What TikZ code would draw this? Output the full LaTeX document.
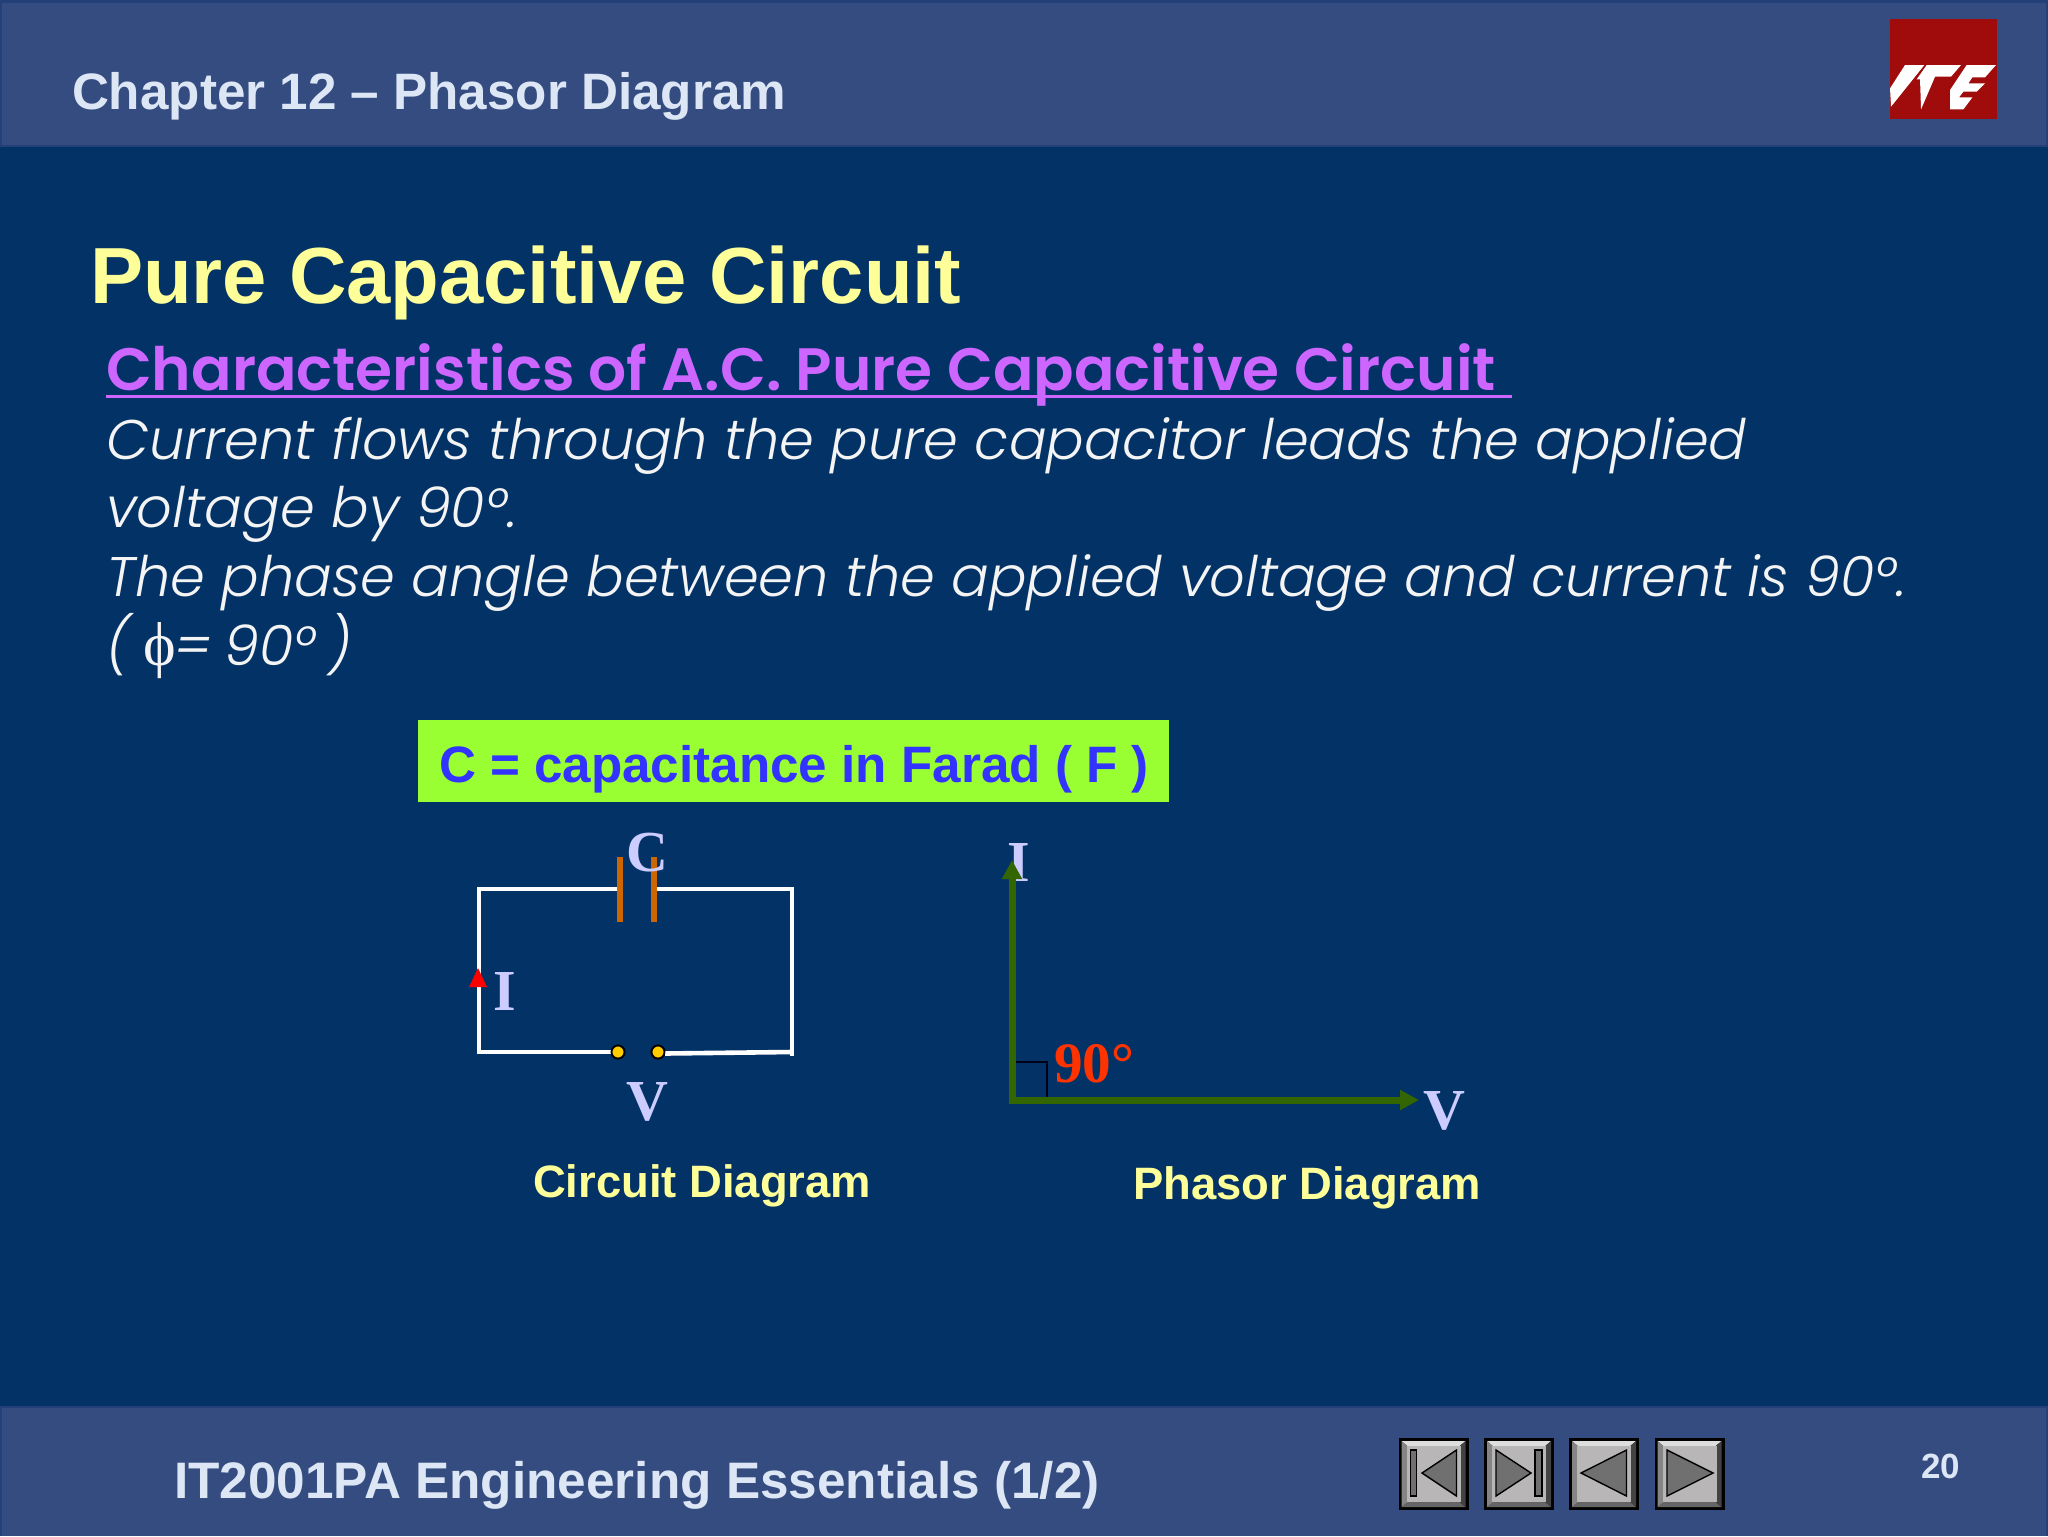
\documentclass[tikz,border=0pt]{standalone}
\usepackage{fontspec}
\setmainfont{Liberation Sans}
\newfontfamily\gothic[ItalicFont={Poppins Light Italic},BoldFont={Poppins SemiBold}]{Poppins}
\newfontfamily\serifb{Liberation Serif}
\usetikzlibrary{arrows.meta}
\definecolor{bgblue}{HTML}{033366}
\definecolor{bandblue}{HTML}{354C81}
\definecolor{banddark}{HTML}{234078}
\definecolor{headtxt}{HTML}{DCE6F4}
\definecolor{titley}{HTML}{FFFF99}
\definecolor{purp}{HTML}{CC66FF}
\definecolor{bodyw}{HTML}{F4F4F4}
\definecolor{limeg}{HTML}{99FF33}
\definecolor{boxblue}{HTML}{3333FF}
\definecolor{capor}{HTML}{CC6600}
\definecolor{lilac}{HTML}{CCCCFF}
\definecolor{phgreen}{HTML}{336600}
\definecolor{oranger}{HTML}{FF3300}
\definecolor{dotyel}{HTML}{FFCC00}
\definecolor{logored}{HTML}{A00C0C}
\definecolor{btnface}{HTML}{B8B6B6}
\definecolor{btnicon}{HTML}{707070}
\tikzset{
  x=0.5pt,y=-0.5pt,
  lbl/.style={anchor=base west,inner sep=0pt,outer sep=0pt},
  headfont/.style={lbl,text=headtxt,font=\bfseries\fontsize{25.6}{30}\selectfont},
  bodyline/.style={lbl,text=bodyw,font=\gothic\itshape\fontsize{27.9}{32}\selectfont},
  caption/.style={lbl,text=titley,font=\bfseries\fontsize{22.7}{26}\selectfont},
  sym/.style={lbl,text=lilac,font=\serifb\bfseries\fontsize{29}{32}\selectfont},
  wire/.style={draw=white,line width=2.3pt},
  plate/.style={draw=capor,line width=3.3pt},
  terminal/.style={circle,draw=black,fill=dotyel,line width=0.9pt,minimum size=6.5pt,inner sep=0pt},
  phasor/.style={draw=phgreen,line width=3.5pt,-{Triangle[length=9.5pt,width=9.5pt]}},
  btnicon/.style={fill=btnicon,draw=black,line width=0.7pt},
}
\newcommand{\navbtn}[2]{%
  \begin{scope}[shift={(#1,1438)}]
    \fill[black] (0,0) rectangle (70,72);
    \fill[btnface!45!white] (3,3) -- (67,3) -- (60,9) -- (10,9) -- cycle;
    \fill[btnicon!90!black] (3,69) -- (67,69) -- (60,63) -- (10,63) -- cycle;
    \fill[btnicon!85!white] (3,3) -- (10,9) -- (10,63) -- (3,69) -- cycle;
    \fill[btnicon!60!black] (67,3) -- (60,9) -- (60,63) -- (67,69) -- cycle;
    \fill[btnface] (8,8) rectangle (62,64);
    #2
  \end{scope}}
\begin{document}
\begin{tikzpicture}
\useasboundingbox (0,0) rectangle (2048,1536);
\fill[bgblue] (0,0) rectangle (2048,1536);
% header and footer bands
\fill[banddark] (0,0) rectangle (2048,147);
\fill[bandblue] (2,3) rectangle (2046,145);
\fill[banddark] (0,1406) rectangle (2048,1536);
\fill[bandblue] (2,1408) rectangle (2046,1536);
\node[headfont] (chapter) at (72,110) {Chapter 12 – Phasor Diagram};
% logo
\fill[logored] (1890,19) rectangle (1997,119);
\begin{scope}[shift={(1885,60)},x=0.1667pt,y=-0.1667pt]
  \fill[white] (60,15) -- (118,15) -- (18,140) -- (15,85) -- cycle;
  \fill[white] (125,15) -- (228,15) -- (198,50) -- (150,50) -- (108,148) -- (105,58) -- (95,58) -- cycle;
  \fill[white] (245,15) -- (333,15) -- (300,52) -- (262,52) -- (250,70) -- (300,70) -- (275,95) -- (235,95) -- (222,112) -- (262,112) -- (235,148) -- (195,148) -- (195,90) -- cycle;
\end{scope}
% titles
\node[lbl,text=titley,font=\bfseries\fontsize{39.8}{46}\selectfont] (title) at (90,303) {Pure Capacitive Circuit};
\node[lbl,text=purp,font=\gothic\bfseries\fontsize{29.9}{36}\selectfont] (sub) at (106,390) {Characteristics of A.C. Pure Capacitive Circuit};
\coordinate (ulA) at (106,396);
\coordinate (ulB) at (1512,396);
\draw[purp,line width=1.5pt] (ulA) -- (ulB);
\node[bodyline] (l1) at (106,459) {Current flows through the pure capacitor leads the applied};
\node[bodyline] (l2) at (106,527) {voltage by 90°.};
\node[bodyline] (l3) at (106,596) {The phase angle between the applied voltage and current is 90°.};
\node[bodyline] (l4) at (106,665) {(\hspace{-1pt} {\serifb\upshape\fontsize{31}{32}\selectfont ϕ}\hspace{-1pt}=\hspace{-2pt} 90°\hspace{-2pt} )};
% capacitance box
\fill[limeg] (418,720) rectangle (1169,802);
\node[lbl,text=boxblue,font=\bfseries\fontsize{25.6}{30}\selectfont] (cap) at (439,782) {C = capacitance in Farad ( F )};
% circuit
\coordinate (tl) at (479,889);
\coordinate (tr) at (792,889);
\coordinate (bl) at (479,1052);
\coordinate (br) at (792,1052);
\coordinate (pa) at (620,889);
\coordinate (pb) at (654,889);
\coordinate (paT) at (620,857);
\coordinate (paB) at (620,922);
\coordinate (pbT) at (654,857);
\coordinate (pbB) at (654,922);
\node[terminal] (t1) at (618,1052) {};
\node[terminal] (t2) at (658,1052) {};
\coordinate (brEnd) at (792,1056);
\coordinate (tipA) at (478,968);
\draw[wire,line join=miter] (pa) -- (tl) -- (bl) -- (t1);
\draw[wire,line join=miter] (pb) -- (tr) -- (brEnd);
\draw[wire] (t2) ++(7,1.5) -- (br);
\node[terminal] at (t1) {};
\node[terminal] at (t2) {};
\draw[plate] (paT) -- (paB);
\draw[plate] (pbT) -- (pbB);
\fill[red] (tipA) -- (469,987) -- (487,987) -- cycle;
\node[sym] (cC) at (626,871) {C};
\node[sym] (cI) at (493,1010) {I};
\node[sym] (cV) at (626,1120) {V};
\node[caption] (cd) at (533,1197) {Circuit Diagram};
% phasor
\coordinate (o) at (1012,1100);
\coordinate (iT) at (1012,860);
\coordinate (vT) at (1419,1100);
\coordinate (qa) at (1014,1062);
\coordinate (qb) at (1047,1062);
\coordinate (qc) at (1047,1097);
\node[sym] (pI) at (1007,881) {I};
\draw[black!90!blue,line width=0.8pt] (qa) -- (qb) -- (qc);
\draw[phasor] (1012,1103) -- (iT);
\draw[phasor] (1009,1100) -- (vT);
\node[lbl,text=oranger,font=\serifb\bfseries\fontsize{28.6}{32}\selectfont] (deg) at (1054,1082) {90°};
\node[sym] (pV) at (1423,1129) {V};
\node[caption] (pd) at (1133,1199) {Phasor Diagram};
% footer
\node[headfont,font=\bfseries\fontsize{25.65}{30}\selectfont] (foot) at (174,1498) {IT2001PA Engineering Essentials (1/2)};
\node[lbl,text=headtxt,font=\bfseries\fontsize{17.5}{20}\selectfont] (num) at (1921,1478) {20};
% navigation buttons
\navbtn{1398.5}{\draw[btnicon] (12,12) rectangle (18,58); \draw[btnicon] (58,12) -- (58,58) -- (23.5,35) -- cycle;}
\navbtn{1484}{\draw[btnicon] (12,12) -- (12,58) -- (47,35) -- cycle; \draw[btnicon] (51,12) rectangle (58,58);}
\navbtn{1569}{\draw[btnicon] (57.5,12) -- (57.5,58) -- (12,35) -- cycle;}
\navbtn{1654.5}{\draw[btnicon] (12.5,12) -- (12.5,58) -- (58.5,35) -- cycle;}
\end{tikzpicture}
\end{document}
